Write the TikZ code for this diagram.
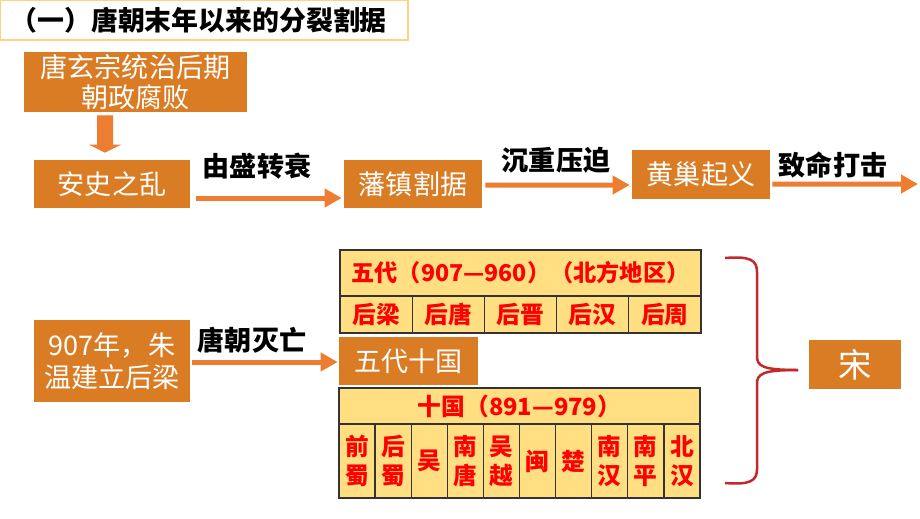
\documentclass[tikz,border=0pt]{standalone}
\usepackage{fontspec}
\setmainfont{Noto Sans CJK SC}
\usetikzlibrary{arrows.meta}
\definecolor{boxorange}{RGB}{218,124,36}
\definecolor{arroworange}{RGB}{237,125,49}
\definecolor{cellyellow}{RGB}{255,223,130}
\definecolor{bracered}{RGB}{196,40,42}
\definecolor{titleline}{RGB}{255,210,128}

\begin{document}
\begin{tikzpicture}[x=0.02cm,y=-0.02cm,
  obox/.style={fill=boxorange,text=white,inner sep=0pt,align=center,font=\fontsize{15.4}{17.5}\selectfont},
  flow/.style={arroworange,line width=0.1cm,-{Triangle[length=0.34cm,width=0.36cm]}},
  tag/.style={font=\bfseries\fontsize{15.4}{16}\selectfont},
  cell/.style={draw=black!80,line width=0.025cm,fill=cellyellow,text=red,inner sep=0pt,align=center,font=\bfseries\fontsize{13.5}{16.5}\selectfont}]
\useasboundingbox (0,0) rectangle (920,518);

\node[draw=titleline,line width=0.03cm,minimum width=8.16cm,minimum height=0.8cm,inner sep=0pt] (title) at (204,20) {};
\node[anchor=west,font=\bfseries\fontsize{15.3}{16}\selectfont] (titletext) at ([xshift=0.1cm]title.west) {（一）唐朝末年以来的分裂割据};

\node[obox,minimum width=4.46cm,minimum height=1.2cm] (tangxz) at (135.5,82) {唐玄宗统治后期\\朝政腐败};
\node[obox,minimum width=3.12cm,minimum height=0.96cm] (anshi) at (112,184) {安史之乱};
\node[obox,minimum width=2.76cm,minimum height=0.96cm] (fanzhen) at (413,184) {藩镇割据};
\node[obox,minimum width=2.76cm,minimum height=0.98cm] (huangchao) at (701,174.5) {黄巢起义};
\node[obox,minimum width=3.12cm,minimum height=1.64cm,font=\fontsize{15.4}{18}\selectfont] (zhuwen) at (112,361) {907年，朱\\温建立后梁};
\node[obox,minimum width=2.78cm,minimum height=0.96cm] (wudai) at (408.5,361) {五代十国};
\node[obox,minimum width=1.84cm,minimum height=0.98cm,font=\fontsize{19}{20}\selectfont] (song) at (855,364.5) {宋};
\coordinate (end3) at (918,184);

\draw[arroworange,line width=0.32cm,-{Triangle[length=0.16cm,width=0.64cm]}] ([xshift=-0.61cm,yshift=-0.06cm]tangxz.south) -- ([xshift=-0.14cm,yshift=0.14cm]anshi.north);
\draw[flow] ([xshift=0.12cm,yshift=-0.28cm]anshi.east) -- ([xshift=-0.04cm,yshift=-0.28cm]fanzhen.west);
\draw[flow] ([xshift=0.06cm,yshift=-0.02cm]fanzhen.east) -- ([xshift=-0.04cm,yshift=-0.21cm]huangchao.west);
\draw[flow] ([xshift=0.04cm,yshift=-0.19cm]huangchao.east) -- (end3);
\draw[flow] ([xshift=0.04cm,yshift=-0.02cm]zhuwen.east) -- ([xshift=-0.02cm,yshift=-0.02cm]wudai.west);

\node[tag] (tag1) at (257,166) {由盛转衰};
\node[tag] (tag2) at (556,160) {沉重压迫};
\node[tag] (tag3) at (833,165) {致命打击};
\node[tag] (tag4) at (252,340) {唐朝灭亡};

\node[cell,minimum width=7.22cm,minimum height=0.92cm,font=\bfseries\fontsize{13.2}{16}\selectfont] (wdhead) at (520.5,273) {五代（907—960）（北方地区）};
\foreach \n [count=\i] in {后梁,后唐,后晋,后汉,后周}
  \node[cell,minimum width=1.444cm,minimum height=0.74cm] (wd\i) at ({340+72.2*\i-36.1},314.5) {\n};

\node[cell,minimum width=7.22cm,minimum height=0.72cm,font=\bfseries\fontsize{13.5}{16}\selectfont] (sghead) at (519.5,406) {十国（891—979）};
\foreach \n [count=\i] in {前\\蜀,后\\蜀,吴,南\\唐,吴\\越,闽,楚,南\\汉,南\\平,北\\汉}
  \node[cell,minimum width=0.722cm,minimum height=1.48cm] (sg\i) at ({339+36.1*\i-18.05},461) {\n};

\draw[bracered,line width=0.05cm] (725,258) .. controls (750,256) and (757,260) .. (757,272) -- (757,356) .. controls (757,366) and (762,370) .. (798,370);
\draw[bracered,line width=0.05cm] (725,483) .. controls (750,485) and (757,481) .. (757,469) -- (757,384) .. controls (757,374) and (762,370) .. (798,370);
\end{tikzpicture}
\end{document}
